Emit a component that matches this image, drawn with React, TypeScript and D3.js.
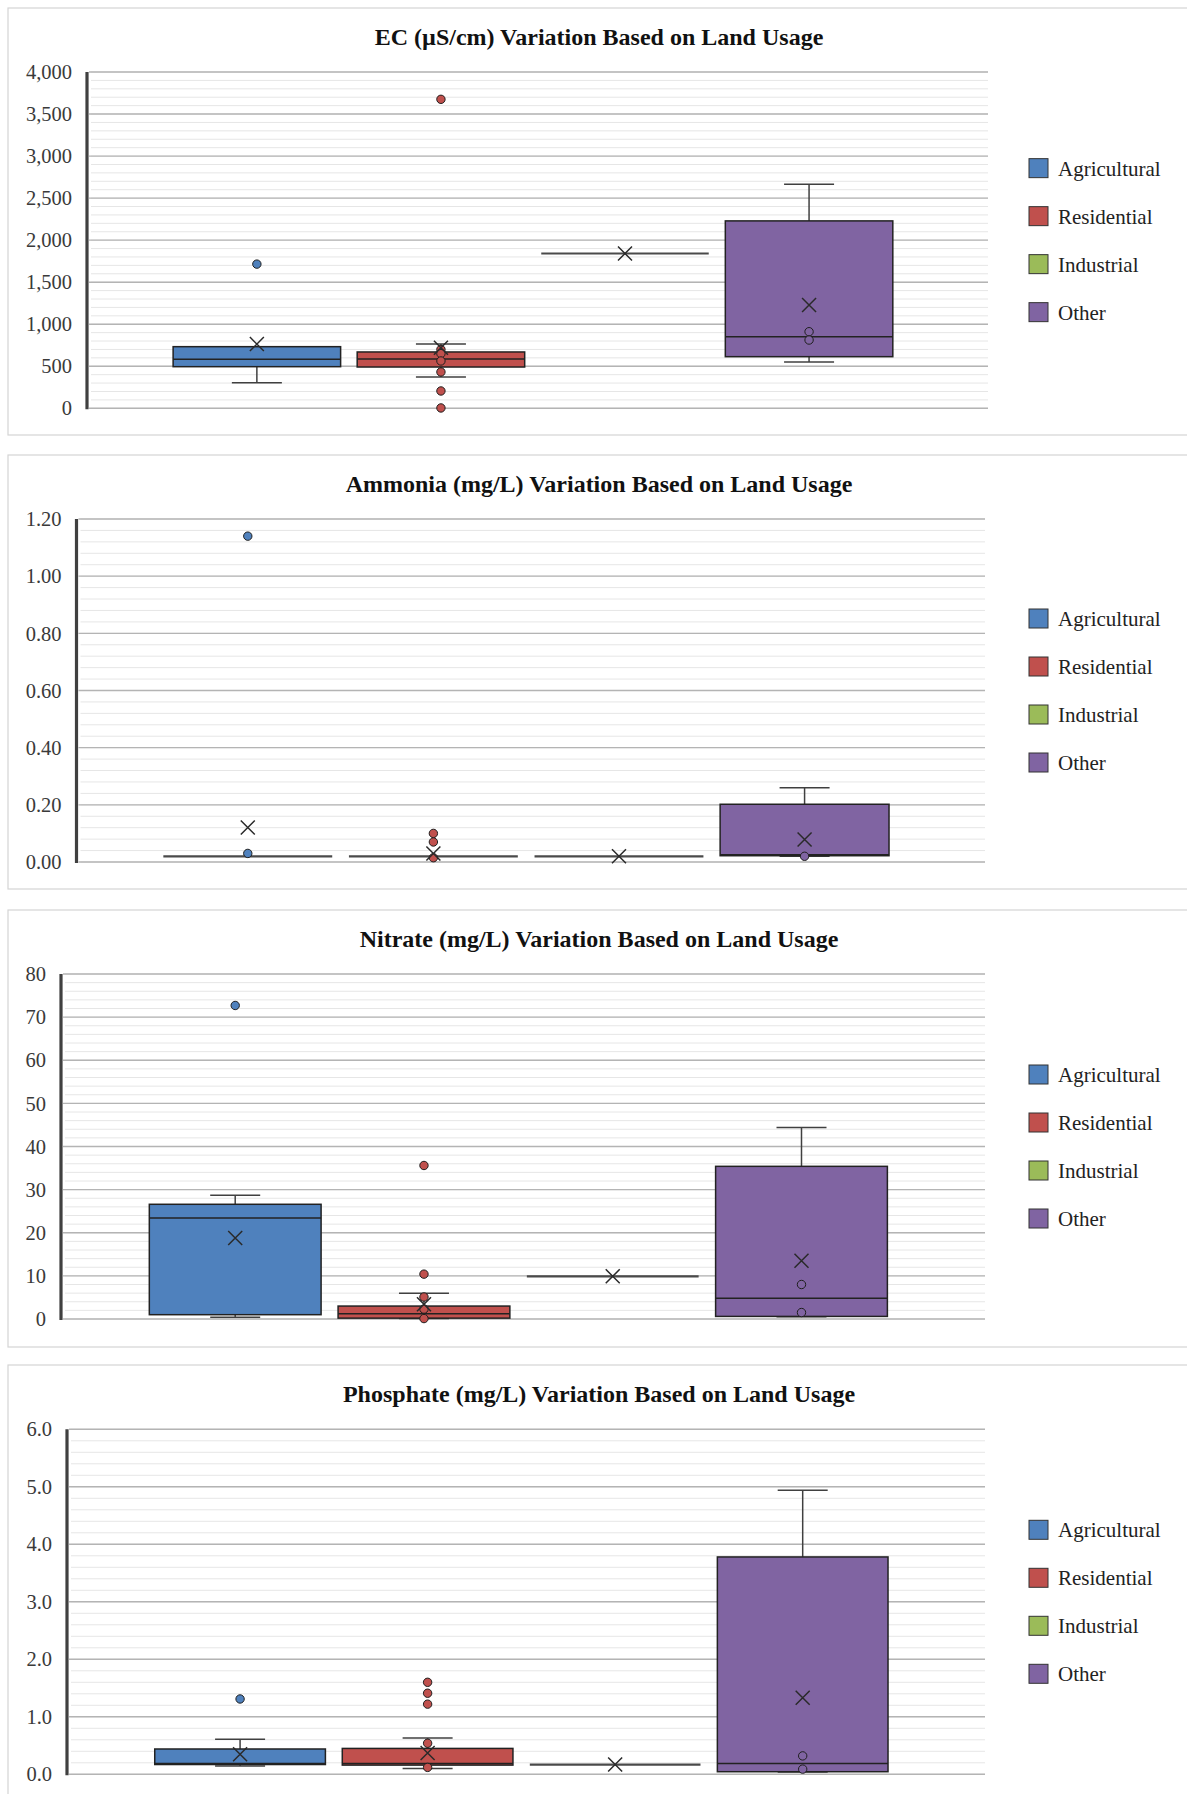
import React from "react";
import * as d3 from "d3";

const CATEGORIES = ["Agricultural", "Residential", "Industrial", "Other"];
const COLORS = ["#4F81BD", "#C0504D", "#9BBB59", "#8064A2"];

// EC (µS/cm)
const EC_LOW = [305, 372, 1841, 550];
const EC_Q1 = [495, 491, 1841, 614];
const EC_MEDIAN = [582, 586, 1841, 851];
const EC_Q3 = [733, 670, 1841, 2229];
const EC_HIGH = [733, 765, 1841, 2665];
const EC_MEAN = [764, 720, 1841, 1228];
const EC_POINTS = [[1715], [3675, 700, 650, 563, 432, 206, 4], [], [911, 812]];
const EC_TICKS = [0, 500, 1000, 1500, 2000, 2500, 3000, 3500, 4000];

// Ammonia (mg/L)
const NH3_LOW = [0.02, 0.02, 0.02, 0.02];
const NH3_Q1 = [0.02, 0.02, 0.02, 0.022];
const NH3_MEDIAN = [0.02, 0.02, 0.02, 0.025];
const NH3_Q3 = [0.02, 0.02, 0.02, 0.202];
const NH3_HIGH = [0.02, 0.02, 0.02, 0.26];
const NH3_MEAN = [0.121, 0.03, 0.02, 0.079];
const NH3_POINTS = [[1.14, 0.03], [0.1, 0.07, 0.015], [], [0.02]];
const NH3_TICKS = [0, 0.2, 0.4, 0.6, 0.8, 1.0, 1.2];

// Nitrate (mg/L)
const NO3_LOW = [0.4, 0.1, 9.9, 0.5];
const NO3_Q1 = [1.0, 0.2, 9.9, 0.6];
const NO3_MEDIAN = [23.4, 1.2, 9.9, 4.8];
const NO3_Q3 = [26.6, 3.0, 9.9, 35.4];
const NO3_HIGH = [28.7, 6.0, 9.9, 44.4];
const NO3_MEAN = [18.8, 3.4, 9.9, 13.5];
const NO3_POINTS = [[72.7], [35.6, 10.4, 5.1, 2.3, 0.1], [], [8.0, 1.5]];
const NO3_TICKS = [0, 10, 20, 30, 40, 50, 60, 70, 80];

// Phosphate (mg/L)
const PO4_LOW = [0.145, 0.1, 0.17, 0.04];
const PO4_Q1 = [0.17, 0.16, 0.17, 0.045];
const PO4_MEDIAN = [0.19, 0.19, 0.17, 0.19];
const PO4_Q3 = [0.44, 0.45, 0.17, 3.78];
const PO4_HIGH = [0.61, 0.63, 0.17, 4.94];
const PO4_MEAN = [0.35, 0.37, 0.17, 1.33];
const PO4_POINTS = [[1.31], [1.6, 1.41, 1.22, 0.54, 0.12], [], [0.32, 0.09]];
const PO4_TICKS = [0, 1, 2, 3, 4, 5, 6];

const TITLES = [
  "EC (µS/cm) Variation Based on Land Usage",
  "Ammonia (mg/L) Variation Based on Land Usage",
  "Nitrate (mg/L) Variation Based on Land Usage",
  "Phosphate (mg/L) Variation Based on Land Usage",
];

const FONT = "'Liberation Serif', 'Times New Roman', Times, serif";

type Stats = {
  low: number[]; q1: number[]; med: number[]; q3: number[]; high: number[]; mean: number[]; points: number[][];
};

const DATASETS: Stats[] = [
  { low: EC_LOW, q1: EC_Q1, med: EC_MEDIAN, q3: EC_Q3, high: EC_HIGH, mean: EC_MEAN, points: EC_POINTS },
  { low: NH3_LOW, q1: NH3_Q1, med: NH3_MEDIAN, q3: NH3_Q3, high: NH3_HIGH, mean: NH3_MEAN, points: NH3_POINTS },
  { low: NO3_LOW, q1: NO3_Q1, med: NO3_MEDIAN, q3: NO3_Q3, high: NO3_HIGH, mean: NO3_MEAN, points: NO3_POINTS },
  { low: PO4_LOW, q1: PO4_Q1, med: PO4_MEDIAN, q3: PO4_Q3, high: PO4_HIGH, mean: PO4_MEAN, points: PO4_POINTS },
];
const TICKSETS = [EC_TICKS, NH3_TICKS, NO3_TICKS, PO4_TICKS];
const FORMATS = [d3.format(","), d3.format(".2f"), d3.format("d"), d3.format(".1f")];

// layout (pixels)
const LAYOUT = [
  { top: 8, bottom: 435, axisX: 87, yTop: 72, yBottom: 408.3, right: 988 },
  { top: 455, bottom: 889, axisX: 76.5, yTop: 519, yBottom: 862, right: 985 },
  { top: 910, bottom: 1347, axisX: 61, yTop: 974, yBottom: 1319, right: 985 },
  { top: 1365, bottom: 1810, axisX: 67, yTop: 1429.3, yBottom: 1774.3, right: 985 },
];

function Panel({ idx }: { idx: number }) {
  const L = LAYOUT[idx];
  const data = DATASETS[idx];
  const ticks = TICKSETS[idx];
  const fmt = FORMATS[idx];
  const maxV = ticks[ticks.length - 1];
  const majorStep = ticks[1] - ticks[0];
  const y = d3.scaleLinear().domain([0, maxV]).range([L.yBottom, L.yTop]);
  const x = d3
    .scaleBand<string>()
    .domain(CATEGORIES)
    .range([L.axisX, L.right])
    .paddingInner(0.09)
    .paddingOuter(0.4925)
    .align(0.475);
  const bw = x.bandwidth();
  const capW = 50;
  const minorStep = majorStep / 5;
  const minorTicks = d3.range(0, Math.round(maxV / minorStep) + 1).map((i) => i * minorStep);
  const legendCenter = (L.yTop + L.yBottom) / 2;
  const legendSpacing = 48;
  const legendStart = legendCenter - legendSpacing * 1.5;
  const ms = 7; // mean marker half-size

  return (
    <g>
      <rect x={8} y={L.top} width={1200} height={L.bottom - L.top} fill="#fff" stroke="#d4d4d4" strokeWidth={1.2} />
      <text x={599} y={L.top + 37} textAnchor="middle" fontFamily={FONT} fontWeight="bold" fontSize={24} fill="#111">
        {TITLES[idx]}
      </text>
      {/* minor gridlines */}
      {minorTicks.map((t, i) => (
        <line key={"mn" + i} x1={L.axisX + 4} x2={L.right} y1={y(t)} y2={y(t)} stroke="#e6e6e6" strokeWidth={1} />
      ))}
      {/* major gridlines */}
      {ticks.map((t, i) => (
        <line key={"mj" + i} x1={L.axisX + 2} x2={L.right} y1={y(t)} y2={y(t)} stroke="#b4b4b4" strokeWidth={1.4} />
      ))}
      {/* tick labels */}
      {ticks.map((t, i) => (
        <text key={"tl" + i} x={L.axisX - 15} y={y(t)} dy="0.35em" textAnchor="end" fontFamily={FONT} fontSize={20.5} fill="#3a3a3a">
          {fmt(t)}
        </text>
      ))}
      {/* axis line */}
      <line x1={L.axisX} x2={L.axisX} y1={y(maxV)} y2={y(0) + 1} stroke="#404040" strokeWidth={3.2} />
      {/* boxes */}
      {CATEGORIES.map((c, i) => {
        const x0 = x(c)!;
        const cx = x0 + bw / 2;
        const collapsed = data.q3[i] - data.q1[i] < 1e-9;
        return (
          <g key={c}>
            {data.high[i] > data.q3[i] && (
              <g>
                <line x1={cx} x2={cx} y1={y(data.q3[i])} y2={y(data.high[i])} stroke="#404040" strokeWidth={1.5} />
                <line x1={cx - capW / 2} x2={cx + capW / 2} y1={y(data.high[i])} y2={y(data.high[i])} stroke="#404040" strokeWidth={1.5} />
              </g>
            )}
            {data.low[i] < data.q1[i] && (
              <g>
                <line x1={cx} x2={cx} y1={y(data.q1[i])} y2={y(data.low[i])} stroke="#404040" strokeWidth={1.5} />
                <line x1={cx - capW / 2} x2={cx + capW / 2} y1={y(data.low[i])} y2={y(data.low[i])} stroke="#404040" strokeWidth={1.5} />
              </g>
            )}
            {collapsed ? (
              <line x1={x0} x2={x0 + bw} y1={y(data.med[i])} y2={y(data.med[i])} stroke="#4a4a4a" strokeWidth={2.2} />
            ) : (
              <g>
                <rect
                  x={x0}
                  y={y(data.q3[i])}
                  width={bw}
                  height={y(data.q1[i]) - y(data.q3[i])}
                  fill={COLORS[i]}
                  stroke="#222"
                  strokeWidth={1.5}
                />
                <line x1={x0} x2={x0 + bw} y1={y(data.med[i])} y2={y(data.med[i])} stroke="#222" strokeWidth={1.5} />
              </g>
            )}
            {data.points[i].map((p, j) => (
              <circle key={j} cx={cx} cy={y(p)} r={4.2} fill={COLORS[i]} stroke="#1f1f1f" strokeWidth={1} />
            ))}
            <path
              d={`M${cx - ms},${y(data.mean[i]) - ms}L${cx + ms},${y(data.mean[i]) + ms}M${cx - ms},${y(data.mean[i]) + ms}L${cx + ms},${y(data.mean[i]) - ms}`}
              stroke="#2a2a2a"
              strokeWidth={1.5}
              fill="none"
            />
          </g>
        );
      })}
      {/* legend */}
      {CATEGORIES.map((c, i) => {
        const cy = legendStart + i * legendSpacing;
        return (
          <g key={"lg" + c}>
            <rect x={1029} y={cy - 9.5} width={19} height={19} fill={COLORS[i]} stroke="#333" strokeWidth={1} />
            <text x={1058} y={cy} dy="0.35em" fontFamily={FONT} fontSize={21} fill="#222">
              {c}
            </text>
          </g>
        );
      })}
    </g>
  );
}

export default function App() {
  return (
    <svg
      width={1187}
      height={1794}
      style={{ position: "absolute", left: 0, top: 0, display: "block", background: "#fff" }}
    >
      <rect x={0} y={0} width={1187} height={1794} fill="#fff" />
      {[0, 1, 2, 3].map((i) => (
        <Panel key={i} idx={i} />
      ))}
    </svg>
  );
}
